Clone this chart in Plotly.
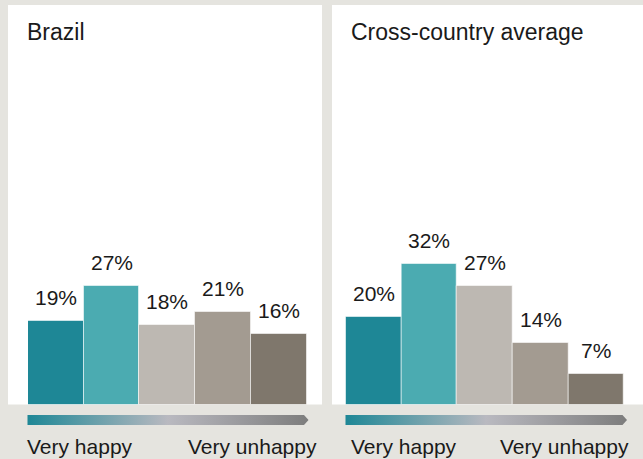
import plotly.graph_objects as go

W, H = 643, 459

categories = ["Very happy", "Happy", "Neutral", "Unhappy", "Very unhappy"]
brazil = [19, 27, 18, 21, 16]
cross_country = [20, 32, 27, 14, 7]
panel_titles = ["Brazil", "Cross-country average"]
scale_labels = ["Very happy", "Very unhappy"]
bar_colors = ["#1e8796", "#4babb1", "#bdb8b2", "#a39b91", "#7f776c"]

BG = "#e5e4df"
FONT = "Liberation Sans, Arial, sans-serif"
TXT = "#1a1a1a"

def px_x(p):
    return p / W

def px_y(p):
    return (H - p) / H

base_px = 404.5
top_px = 5
px_per_pct = 4.4
ymax = (base_px - top_px) / px_per_pct

fig = go.Figure()

panels = [
    dict(data=brazil, xa="x", ya="y", bars=(28, 306.7), white=(8, 322), title_x=28,
         grad=(27.5, 308.5), lab=(28, 316)),
    dict(data=cross_country, xa="x2", ya="y2", bars=(345.7, 624), white=(332, 643), title_x=352,
         grad=(345.5, 627), lab=(352, 628)),
]

shapes = []
annotations = []
for i, p in enumerate(panels):
    shapes.append(dict(type="rect", xref="paper", yref="paper",
                       x0=px_x(p["white"][0]), x1=px_x(p["white"][1]),
                       y0=px_y(base_px), y1=px_y(top_px),
                       fillcolor="white", line_width=0, layer="below"))
    fig.add_trace(go.Bar(
        x=categories, y=p["data"], xaxis=p["xa"], yaxis=p["ya"],
        marker=dict(color=bar_colors, line=dict(color="rgba(255,255,255,0.55)", width=1)),
        hoverinfo="skip", showlegend=False,
    ))
    for c, v in zip(categories, p["data"]):
        annotations.append(dict(x=c, y=v, xref=p["xa"], yref=p["ya"], text=f"{v}%",
                                showarrow=False, yanchor="bottom", yshift=10,
                                font=dict(family=FONT, size=21, color=TXT)))
    annotations.append(dict(x=px_x(p["title_x"]), y=px_y(17), xref="paper", yref="paper",
                            text=panel_titles[i], showarrow=False, xanchor="left", yanchor="top",
                            xshift=-3, font=dict(family=FONT, size=23, color=TXT)))
    annotations.append(dict(x=px_x(p["lab"][0]), y=px_y(433), xref="paper", yref="paper",
                            text=scale_labels[0], showarrow=False, xanchor="left", yanchor="top",
                            xshift=-3, font=dict(family=FONT, size=21, color=TXT)))
    annotations.append(dict(x=px_x(p["lab"][1]), y=px_y(433), xref="paper", yref="paper",
                            text=scale_labels[1], showarrow=False, xanchor="right", yanchor="top",
                            xshift=3, font=dict(family=FONT, size=21, color=TXT)))
    # gradient arrow (decoration) on overlay pixel axes
    g0, g1 = p["grad"]
    body_end = g1 - 4.5
    xs = [g0, body_end, g1, body_end, g0, g0]
    ys = [415, 415, 420, 425, 425, 415]
    fig.add_trace(go.Scatter(
        x=xs, y=ys, xaxis="x3", yaxis="y3", mode="lines", line=dict(width=0),
        fill="toself",
        fillgradient=dict(type="horizontal", start=g0, stop=g1,
                          colorscale=[[0, "#1e8796"], [0.5, "#b9b9c0"], [1, "#7d7d7d"]]),
        hoverinfo="skip", showlegend=False,
    ))

ydom = [px_y(base_px), px_y(top_px)]
fig.update_layout(
    width=W, height=H, margin=dict(l=0, r=0, t=0, b=0),
    paper_bgcolor=BG, plot_bgcolor="rgba(0,0,0,0)",
    bargap=0,
    xaxis=dict(domain=[px_x(28), px_x(306.7)], range=[-0.5, 4.5], visible=False),
    yaxis=dict(domain=ydom, range=[0, ymax], visible=False),
    xaxis2=dict(domain=[px_x(345.7), px_x(624)], range=[-0.5, 4.5], visible=False, anchor="y2"),
    yaxis2=dict(domain=ydom, range=[0, ymax], visible=False, anchor="x2"),
    xaxis3=dict(domain=[0, 1], range=[0, W], visible=False, anchor="y3"),
    yaxis3=dict(domain=[0, 1], range=[H, 0], visible=False, anchor="x3"),
    shapes=shapes, annotations=annotations,
)

fig.write_html("out.html", config={"displayModeBar": False},
               post_script="document.body.style.margin='0';document.body.style.overflow='hidden';")
